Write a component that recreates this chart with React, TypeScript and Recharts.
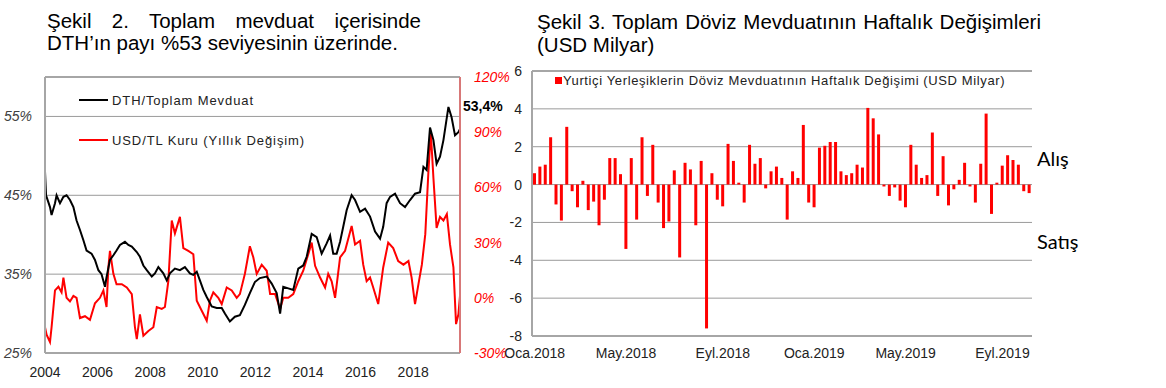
import { LineChart, Line, XAxis, YAxis, CartesianGrid, ReferenceLine, BarChart, Bar, LabelList } from "recharts";

const FONT = "'Liberation Sans', Arial, sans-serif";

// Şekil 2: DTH / toplam mevduat payı (%) at decimal-year positions
const dthYears = [
  2004.0, 2004.04, 2004.19, 2004.25, 2004.38, 2004.44, 2004.57, 2004.7, 2004.82, 2004.95,
  2005.08, 2005.2, 2005.33, 2005.46, 2005.58, 2005.77, 2005.9, 2006.03, 2006.15, 2006.28,
  2006.34, 2006.47, 2006.6, 2006.72, 2006.85, 2007.04, 2007.17, 2007.3, 2007.49, 2007.61,
  2007.74, 2007.87, 2008.06, 2008.18, 2008.31, 2008.5, 2008.63, 2008.75, 2008.94, 2009.13,
  2009.32, 2009.51, 2009.64, 2009.77, 2009.89, 2010.02, 2010.15, 2010.34, 2010.53, 2010.72,
  2010.84, 2011.03, 2011.22, 2011.41, 2011.6, 2011.79, 2011.98, 2012.17, 2012.43, 2012.62,
  2012.81, 2012.94, 2013.06, 2013.25, 2013.44, 2013.63, 2013.82, 2013.95, 2014.14, 2014.33,
  2014.52, 2014.71, 2014.84, 2014.96, 2015.09, 2015.22, 2015.34, 2015.47, 2015.66, 2015.79,
  2015.98, 2016.17, 2016.36, 2016.55, 2016.74, 2016.86, 2016.99, 2017.12, 2017.31, 2017.5,
  2017.69, 2017.88, 2018.07, 2018.26, 2018.39, 2018.51, 2018.64, 2018.77, 2018.89, 2019.02,
  2019.15, 2019.34, 2019.46, 2019.59, 2019.72, 2019.78,
];
const dthShare = [
  48.0, 45.0, 43.5, 42.5, 44.0, 45.0, 44.0, 44.8, 45.0, 44.4,
  43.5, 41.8, 40.6, 39.3, 38.0, 37.6, 36.8, 35.5, 35.0, 33.4,
  34.6, 36.8, 37.4, 38.0, 38.7, 39.1, 38.7, 38.5, 37.8, 37.2,
  36.1, 35.5, 34.7, 35.1, 35.9, 35.1, 34.2, 35.1, 35.7, 35.5,
  35.9, 35.1, 34.9, 35.3, 34.2, 33.0, 32.1, 30.9, 30.7, 30.7,
  30.0, 29.0, 29.6, 29.8, 31.1, 32.6, 34.0, 34.5, 34.7, 33.8,
  32.6, 30.0, 33.4, 33.2, 33.0, 35.7, 36.1, 37.2, 40.1, 39.7,
  37.6, 38.9, 39.9, 37.6, 37.6, 39.1, 41.0, 43.1, 45.0, 44.4,
  42.9, 43.3, 42.3, 40.4, 39.5, 41.0, 44.0, 44.8, 45.2, 44.0,
  43.5, 44.4, 45.2, 45.4, 48.6, 48.2, 53.6, 52.0, 49.0, 49.9,
  52.0, 56.2, 54.9, 52.6, 53.0, 53.4,
];

// USD/TL kuru, yıllık değişim (%)
const usdYears = [
  2004.0, 2004.06, 2004.19, 2004.25, 2004.38, 2004.51, 2004.63, 2004.7, 2004.82, 2004.95,
  2005.08, 2005.2, 2005.33, 2005.52, 2005.71, 2005.9, 2006.09, 2006.22, 2006.34, 2006.41,
  2006.47, 2006.6, 2006.72, 2006.92, 2007.11, 2007.3, 2007.42, 2007.49, 2007.61, 2007.74,
  2007.93, 2008.12, 2008.25, 2008.44, 2008.56, 2008.69, 2008.82, 2008.94, 2009.13, 2009.26,
  2009.45, 2009.64, 2009.77, 2009.96, 2010.15, 2010.27, 2010.4, 2010.59, 2010.72, 2010.91,
  2011.1, 2011.29, 2011.41, 2011.6, 2011.79, 2011.92, 2012.05, 2012.24, 2012.43, 2012.56,
  2012.75, 2012.94, 2013.06, 2013.25, 2013.44, 2013.63, 2013.82, 2014.01, 2014.14, 2014.27,
  2014.46, 2014.65, 2014.77, 2014.9, 2015.03, 2015.22, 2015.41, 2015.66, 2015.79, 2015.98,
  2016.1, 2016.23, 2016.36, 2016.48, 2016.67, 2016.86, 2017.05, 2017.24, 2017.43, 2017.63,
  2017.82, 2017.94, 2018.07, 2018.2, 2018.33, 2018.46, 2018.58, 2018.67, 2018.77, 2018.89,
  2019.02, 2019.15, 2019.28, 2019.4, 2019.53, 2019.63, 2019.72, 2019.78,
];
const usdChange = [
  -16, -20, -24, -16, 4, 6, 3, 11, 0, -2,
  1, 0, -11, -10, -12, -3, 0, 4, -5, 16.5,
  25.5, 13, 7.4, 7.4, 5.6, 2, -16, -22.5, -9, -20.6,
  -18, -16, -5, -6, -5, 9, 42, 35, 44, 27,
  25.5, 23.7, -1.6, -7, -12.5, -1.6, 3, 0, -3.4, 5.6,
  4, 0, 2, 13, 28, 22, 13, 18, 14.7, 2,
  2, -6, 0, 0, 2, 9, 14.7, 23.7, 30, 17.4,
  11, 5.6, 13, 9, 0, 22, 25.5, 39, 29, 31,
  18, 9, 11, 5.6, -3.4, 16.5, 30, 27, 20, 18,
  20, 11, -3.4, 7.4, 18, 34.6, 69, 90, 65, 38,
  44, 42, 45.5, 29, 16.5, -14.3, -9, 1,
];

const shareTicks = [25, 35, 45, 55];
const fxTicks = [-30, 0, 30, 60, 90, 120];
const yearTicks = [2004, 2006, 2008, 2010, 2012, 2014, 2016, 2018];

// Şekil 3: yurtiçi yerleşiklerin döviz mevduatı haftalık değişimi (USD milyar), Oca.2018 başından
const weeklyChange = [
  0.6, 0.95, 1.05, 2.5, -1.05, -1.9, 3.05, -0.35, -1.2, 0.2,
  -1.35, -0.9, -2.15, -0.8, 1.4, 1.4, 0.55, -3.4, 1.4, -1.85,
  2.5, -0.6, 2.1, -0.95, -2.3, -1.95, 0.75, -3.85, 1.15, 0.8,
  -2.15, 1.25, -7.6, 0.6, -0.8, -1.15, 2.15, 1.25, 0.1, -0.95,
  2.1, 1.1, 1.4, -0.2, 0.7, 0.95, 0.35, -1.85, 0.7, 0.35,
  3.15, -0.95, -1.2, 1.95, 2.05, 2.25, 2.25, 0.7, 0.5, 0.6,
  1.05, 0.9, 4.05, 3.5, 2.65, -0.1, -0.6, -0.15, -0.85, -1.2,
  2.1, 1.05, 0.35, 0.5, 2.75, -0.6, 1.5, -1.1, -0.25, 0.25,
  1.15, -0.1, -0.95, 1.1, 3.75, -1.55, 0.1, 1.0, 1.55, 1.3,
  1.05, -0.35, -0.45,
];
const monthLabels = ["Oca.2018", "May.2018", "Eyl.2018", "Oca.2019", "May.2019", "Eyl.2019"];
const monthLabelWeeks = [0, 17, 35, 52, 69, 87];
const changeTicks = [-8, -6, -4, -2, 0, 2, 4, 6];

type Row = { t: number; dth?: number; usd?: number };
const rowsByYear = new Map<number, Row>();
dthYears.forEach((t, i) => rowsByYear.set(t, { ...(rowsByYear.get(t) || { t }), dth: dthShare[i] }));
usdYears.forEach((t, i) => rowsByYear.set(t, { ...(rowsByYear.get(t) || { t }), usd: usdChange[i] }));
const lineTable = Array.from(rowsByYear.values()).sort((a, b) => a.t - b.t);
const lastRow = lineTable.length - 1;

const barTable = weeklyChange.map((v, i) => ({ week: i, v }));

function endLabel(props: { x?: number | string; y?: number | string; index?: number }) {
  if (props.index !== lastRow || props.x == null || props.y == null) return <text />;
  return (
    <text x={Number(props.x) + 3} y={Number(props.y) - 18} fontSize={14} fontWeight={700} fill="#000" fontFamily={FONT}>
      53,4%
    </text>
  );
}

function WeekTick(props: { x?: number; y?: number; payload?: { value: number } }) {
  const k = monthLabelWeeks.indexOf(Number(props.payload?.value));
  if (k < 0) return <g />;
  return (
    <text x={props.x} y={Number(props.y) + 22} textAnchor="middle" fontSize={14} fill="#222" fontFamily={FONT}>
      {monthLabels[k]}
    </text>
  );
}

const gray = "#a6a6a6";
const sideFont = "Lato, 'Open Sans', sans-serif";

export default function App() {
  return (
    <div style={{ position: "absolute", left: 0, top: 0, width: 1166, height: 388, background: "#fff", fontFamily: FONT }}>
      <div style={{ position: "absolute", left: 47, top: 10, width: 374, fontSize: 20.5, lineHeight: "22px", color: "#000" }}>
        <div style={{ textAlign: "justify", textAlignLast: "justify" }}>Şekil 2. Toplam mevduat içerisinde</div>
        <div>DTH’ın payı %53 seviyesinin üzerinde.</div>
      </div>
      <div style={{ position: "absolute", left: 537, top: 10, width: 504, fontSize: 20.5, lineHeight: "23px", color: "#000" }}>
        <div style={{ textAlign: "justify", textAlignLast: "justify" }}>Şekil 3. Toplam Döviz Mevduatının Haftalık Değişimleri</div>
        <div>(USD Milyar)</div>
      </div>

      <div style={{ position: "absolute", left: 0, top: 0 }}>
        <LineChart width={530} height={388} data={lineTable} margin={{ left: 5, right: 20, top: 77, bottom: 5 }}>
          <CartesianGrid yAxisId="share" vertical={false} stroke="#9a9a9a" />
          <XAxis
            dataKey="t"
            type="number"
            domain={[2004, 2019.78]}
            ticks={yearTicks}
            tickLine={false}
            tickSize={0}
            tickMargin={14}
            height={30}
            axisLine={{ stroke: gray, strokeWidth: 2 }}
            tick={{ fontSize: 14, fill: "#222", fontFamily: FONT }}
          />
          <YAxis
            yAxisId="share"
            domain={[25, 60]}
            ticks={shareTicks}
            tickFormatter={(v) => `${v}%`}
            width={40}
            tickLine={false}
            tickSize={0}
            tickMargin={13}
            axisLine={{ stroke: gray, strokeWidth: 2 }}
            tick={{ fontSize: 14, fill: "#404040", fontStyle: "italic", fontFamily: FONT }}
          />
          <YAxis
            yAxisId="fx"
            orientation="right"
            domain={[-30, 120]}
            ticks={fxTicks}
            tickFormatter={(v) => `${v}%`}
            width={50}
            tickLine={false}
            tickSize={0}
            tickMargin={14}
            axisLine={{ stroke: "#d87878", strokeWidth: 2 }}
            tick={{ fontSize: 14, fill: "#ff0000", fontStyle: "italic", fontFamily: FONT }}
          />
          <ReferenceLine yAxisId="share" y={60} stroke={gray} strokeWidth={2} />
          <Line yAxisId="fx" dataKey="usd" stroke="#ff0000" strokeWidth={2} dot={false} connectNulls isAnimationActive={false} type="linear" />
          <Line yAxisId="share" dataKey="dth" stroke="#000" strokeWidth={2} dot={false} connectNulls isAnimationActive={false} type="linear">
            <LabelList dataKey="dth" content={endLabel} />
          </Line>
        </LineChart>
      </div>

      <div style={{ position: "absolute", left: 79, top: 90, fontSize: 13, letterSpacing: 0.9, color: "#222" }}>
        <div style={{ display: "flex", alignItems: "center", height: 20 }}>
          <span style={{ width: 29, height: 2, background: "#000", marginRight: 4 }} />
          DTH/Toplam Mevduat
        </div>
        <div style={{ display: "flex", alignItems: "center", height: 20, marginTop: 20 }}>
          <span style={{ width: 29, height: 2, background: "#ff0000", marginRight: 4 }} />
          USD/TL Kuru (Yıllık Değişim)
        </div>
      </div>

      <div style={{ position: "absolute", left: 500, top: 0 }}>
        <BarChart width={560} height={388} data={barTable} margin={{ left: 2, right: 28, top: 71, bottom: 22 }}>
          <CartesianGrid vertical={false} stroke="#9a9a9a" />
          <XAxis
            dataKey="week"
            interval={0}
            tickLine={false}
            tickSize={0}
            tickMargin={0}
            height={30}
            axisLine={{ stroke: gray, strokeWidth: 2 }}
            tick={<WeekTick />}
          />
          <YAxis
            domain={[-8, 6]}
            ticks={changeTicks}
            width={30}
            tickLine={false}
            tickSize={0}
            tickMargin={10}
            axisLine={{ stroke: gray, strokeWidth: 2 }}
            tick={{ fontSize: 14, fill: "#222", fontFamily: FONT }}
          />
          <YAxis yAxisId="box" orientation="right" width={0} tick={false} tickLine={false} axisLine={{ stroke: gray, strokeWidth: 2 }} />
          <ReferenceLine y={6} stroke={gray} strokeWidth={2} />
          <Bar dataKey="v" fill="#ff0000" barSize={3} isAnimationActive={false} />
        </BarChart>
      </div>

      <div style={{ position: "absolute", left: 555, top: 73, display: "flex", alignItems: "center", fontSize: 13, letterSpacing: 0.62, color: "#222" }}>
        <span style={{ width: 7, height: 7, background: "#ff0000", marginRight: 1 }} />
        Yurtiçi Yerleşiklerin Döviz Mevduatının Haftalık Değişimi (USD Milyar)
      </div>

      <div style={{ position: "absolute", left: 1037, top: 146, fontSize: 20, fontFamily: sideFont, color: "#000" }}>Alış</div>
      <div style={{ position: "absolute", left: 1037, top: 229, fontSize: 20, fontFamily: sideFont, color: "#000" }}>Satış</div>
    </div>
  );
}
